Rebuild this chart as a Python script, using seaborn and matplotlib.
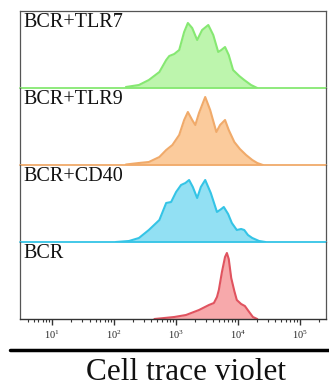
import numpy as np
import pandas as pd
import matplotlib
matplotlib.use("Agg")
import matplotlib.pyplot as plt
import matplotlib.ticker as mticker
import seaborn as sns

# sample names, top to bottom
samples = ["BCR+TLR7", "BCR+TLR9", "BCR+CD40", "BCR"]

# log10 of Cell trace violet intensity, and normalised cell counts
tlr7_log = [2.19, 2.40, 2.56, 2.73, 2.84, 2.89, 2.97, 3.05, 3.13, 3.19, 3.26, 3.34,
            3.42, 3.52, 3.60, 3.68, 3.73, 3.79, 3.85, 3.92, 4.02, 4.10, 4.21, 4.31]
tlr7_count = [1, 3, 8, 16, 28, 32, 34, 38, 56, 65, 60, 48,
              58, 63, 53, 36, 38, 41, 33, 18, 12, 8, 3, 0]

tlr9_log = [2.19, 2.40, 2.56, 2.73, 2.84, 2.94, 3.05, 3.13, 3.19, 3.26, 3.31, 3.37,
            3.47, 3.55, 3.65, 3.71, 3.79, 3.85, 3.94, 4.03, 4.13, 4.23, 4.31, 4.40]
tlr9_count = [0.5, 2, 3, 8, 15, 20, 30, 45, 53, 45, 40, 52,
              68, 55, 33, 40, 45, 35, 23, 16, 10, 5, 2, 0]

cd40_log = [2.03, 2.24, 2.40, 2.56, 2.73, 2.84, 2.92, 3.00, 3.08, 3.15, 3.21, 3.27,
            3.34, 3.40, 3.47, 3.56, 3.66, 3.73, 3.77, 3.84, 3.90, 3.98, 4.05, 4.10,
            4.16, 4.23, 4.34, 4.44]
cd40_count = [0, 1, 4, 12, 22, 39, 40, 50, 57, 59, 62, 55,
              44, 55, 62, 49, 30, 33, 35, 28, 19, 12, 13, 12,
              7, 4, 1, 0]

bcr_log = [2.65, 2.81, 2.97, 3.16, 3.37, 3.53, 3.61, 3.66, 3.69, 3.74, 3.79, 3.82,
           3.85, 3.89, 3.94, 3.98, 4.05, 4.11, 4.18, 4.24, 4.31]
bcr_count = [0, 1, 2, 4, 9, 14, 16, 22, 29, 47, 62, 66,
             60, 41, 28, 19, 15, 13, 7, 2, 0]

series_log = [tlr7_log, tlr9_log, cd40_log, bcr_log]
series_count = [tlr7_count, tlr9_count, cd40_count, bcr_count]

line_colors = ["#86e872", "#f0aa6a", "#34c4e6", "#e0535f"]
fill_colors = ["#bdf5ad", "#fbcb9c", "#92e0f3", "#f7a9ab"]

sns.set_style("white")
plt.rcParams["font.family"] = ["Liberation Serif", "DejaVu Serif"]
plt.rcParams["mathtext.fontset"] = "custom"
plt.rcParams["mathtext.rm"] = "Liberation Sans"
plt.rcParams["mathtext.it"] = "Liberation Sans:italic"

fig = plt.figure(figsize=(3.29, 3.88), dpi=100)
left, width = 20 / 329, 306 / 329
top, bottom = 1 - 11 / 388, 1 - 319 / 388
ph = (top - bottom) / 4

frame_col = "#555555"
axes = []
for i in range(4):
    ax = fig.add_axes([left, top - (i + 1) * ph, width, ph])
    ax.patch.set_visible(False)
    axes.append(ax)
    df = pd.DataFrame({"x": 10 ** np.array(series_log[i]), "y": series_count[i]})
    ax.fill_between(df["x"], 0, df["y"], color=fill_colors[i], lw=0, zorder=1)
    sns.lineplot(data=df, x="x", y="y", ax=ax, color=line_colors[i], lw=1.5,
                 zorder=2, estimator=None, sort=False)
    ax.set_xscale("log")
    ax.set_xlim(10 ** 0.48, 10 ** 5.42)
    ax.set_ylim(0, 77)
    ax.set_yticks([])
    ax.set_xlabel("")
    ax.set_ylabel("")
    ax.text(0.01, 0.97, samples[i], transform=ax.transAxes, ha="left", va="top",
            fontsize=14.5, color="#111111")
    for s in ["left", "right", "top"]:
        ax.spines[s].set_color(frame_col)
        ax.spines[s].set_linewidth(0.9)
    ax.spines["top"].set_visible(i == 0)
    if i < 3:
        ax.spines["bottom"].set_visible(False)
        ax.axhline(0, color=line_colors[i], lw=1.3, zorder=3, clip_on=False)
        ax.tick_params(axis="x", which="both", bottom=False, labelbottom=False)
    else:
        ax.spines["bottom"].set_color("#333333")
        ax.spines["bottom"].set_linewidth(1.0)

bax = axes[-1]
bax.xaxis.set_major_locator(mticker.LogLocator(base=10, numticks=10))
bax.xaxis.set_minor_locator(mticker.LogLocator(base=10, subs=np.arange(2, 10), numticks=20))
bax.xaxis.set_major_formatter(mticker.LogFormatterMathtext())
bax.xaxis.set_minor_formatter(mticker.NullFormatter())
bax.tick_params(axis="x", which="major", direction="out", length=4, width=1.0,
                bottom=True, labelsize=7.5, pad=3, color="#333333")
bax.tick_params(axis="x", which="minor", direction="out", length=2, width=0.8,
                bottom=True, color="#333333")

# thick rule and axis title below
fig.add_artist(plt.Line2D([10 / 329, 1.0], [1 - 350 / 388] * 2, color="black", lw=2.5))
fig.text(186 / 329, 1 - 373 / 388, "Cell trace violet", ha="center", va="center",
         fontsize=22.5, color="#111111")

fig.savefig("out.png", dpi=100)
